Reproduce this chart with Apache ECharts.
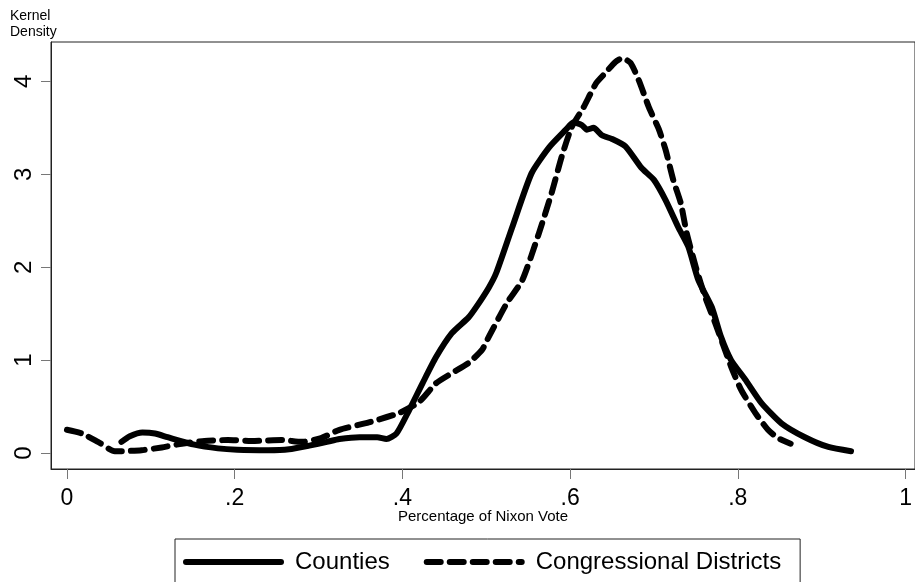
<!DOCTYPE html>
<html>
<head>
<meta charset="utf-8">
<script src="https://cdn.jsdelivr.net/npm/echarts@6/dist/echarts.min.js"></script>
<style>
  html, body { margin: 0; padding: 0; background: #fff; }
  #chart { width: 915px; height: 582px; }
</style>
</head>
<body>
<div id="chart"></div>
<script>
// kernel density
var countiesX = [0.065, 0.075, 0.090, 0.105, 0.120, 0.152, 0.180, 0.203, 0.240, 0.265, 0.289, 0.310, 0.325, 0.349, 0.370, 0.381, 0.393, 0.408, 0.424, 0.440, 0.459, 0.479, 0.488, 0.503, 0.512, 0.531, 0.554, 0.575, 0.595, 0.604, 0.614, 0.620, 0.628, 0.638, 0.650, 0.666, 0.685, 0.700, 0.714, 0.729, 0.741, 0.753, 0.769, 0.780, 0.792, 0.809, 0.828, 0.852, 0.880, 0.908, 0.935]
var countiesY = [0.12, 0.18, 0.22, 0.21, 0.17, 0.09, 0.05, 0.035, 0.03, 0.04, 0.08, 0.12, 0.15, 0.17, 0.17, 0.15, 0.21, 0.46, 0.75, 1.03, 1.29, 1.46, 1.57, 1.78, 1.94, 2.43, 3.01, 3.29, 3.48, 3.56, 3.53, 3.48, 3.50, 3.42, 3.38, 3.30, 3.07, 2.94, 2.72, 2.43, 2.22, 1.86, 1.57, 1.25, 1.00, 0.79, 0.54, 0.32, 0.17, 0.065, 0.02]

var districtsX = [0.000, 0.018, 0.037, 0.057, 0.065, 0.089, 0.113, 0.137, 0.164, 0.192, 0.224, 0.256, 0.280, 0.303, 0.325, 0.360, 0.396, 0.420, 0.440, 0.459, 0.479, 0.495, 0.503, 0.525, 0.543, 0.563, 0.578, 0.590, 0.602, 0.616, 0.631, 0.642, 0.654, 0.662, 0.672, 0.682, 0.694, 0.706, 0.714, 0.723, 0.732, 0.739, 0.750, 0.761, 0.773, 0.792, 0.804, 0.821, 0.836, 0.848, 0.863]
var districtsY = [0.25, 0.21, 0.12, 0.02, 0.02, 0.03, 0.06, 0.10, 0.13, 0.14, 0.13, 0.14, 0.12, 0.16, 0.25, 0.33, 0.43, 0.55, 0.75, 0.86, 0.97, 1.11, 1.25, 1.62, 1.86, 2.37, 2.80, 3.19, 3.51, 3.72, 3.98, 4.09, 4.21, 4.25, 4.20, 4.01, 3.72, 3.48, 3.26, 2.94, 2.69, 2.37, 2.00, 1.68, 1.40, 0.93, 0.68, 0.43, 0.25, 0.16, 0.10]

var xTicks = [0, 0.2, 0.4, 0.6, 0.8, 1]
var yTicks = [0, 1, 2, 3, 4]

function pairs(xs, ys) {
  return xs.map(function (x, i) { return [x, ys[i]] })
}

var chart = echarts.init(document.getElementById('chart'))
var font = 'Liberation Sans, Arial, Helvetica, sans-serif'
var noDot = { opacity: 0, color: 'transparent', borderWidth: 0 }

chart.setOption({
  animation: false,
  title: {
    text: 'Kernel\nDensity',
    left: 10, top: 8, padding: 0,
    textStyle: { fontSize: 14, fontWeight: 'normal', color: '#000', fontFamily: font, lineHeight: 16 }
  },
  grid: {
    left: 51, right: -2, top: 42, bottom: 113,
    show: true, borderColor: '#222', borderWidth: 1
  },
  xAxis: {
    type: 'value',
    min: -0.019, max: 1.0113,
    name: 'Percentage of Nixon Vote',
    nameLocation: 'middle',
    nameGap: 40,
    nameMoveOverlap: false,
    nameTextStyle: { fontSize: 15, color: '#000', fontFamily: font },
    splitLine: { show: false },
    axisLine: { show: true, onZero: false, lineStyle: { color: '#222', width: 1 } },
    axisTick: { show: true, length: 10, customValues: xTicks, lineStyle: { color: '#777', width: 1 } },
    axisLabel: {
      customValues: xTicks,
      margin: 18,
      fontSize: 23, color: '#000', fontFamily: font,
      formatter: function (v) {
        if (v === 0) return '0'
        if (v === 1) return '1'
        return String(v).replace(/^0/, '')
      }
    }
  },
  yAxis: {
    type: 'value',
    min: -0.172, max: 4.424,
    splitLine: { show: false },
    axisLine: { show: true, onZero: false, lineStyle: { color: '#222', width: 1 } },
    axisTick: { show: true, length: 10, customValues: yTicks, lineStyle: { color: '#777', width: 1 } },
    axisLabel: {
      customValues: yTicks,
      rotate: 90,
      margin: 15,
      fontSize: 24, color: '#000', fontFamily: font
    }
  },
  legend: {
    left: 175, top: 539,
    padding: [11, 19, 11, 8],
    borderColor: '#222', borderWidth: 1,
    itemGap: 34, itemWidth: 95, itemHeight: 24,
    textStyle: { fontSize: 24, color: '#000', fontFamily: font, padding: [0, 0, 0, 9] },
    data: [
      { name: 'Counties', itemStyle: noDot, lineStyle: { width: 6, type: 'solid', cap: 'round' } },
      { name: 'Congressional Districts', itemStyle: noDot, lineStyle: { width: 6, type: [14, 9], cap: 'round' } }
    ]
  },
  series: [
    {
      name: 'Counties',
      type: 'line',
      data: pairs(countiesX, countiesY),
      symbol: 'none',
      smooth: 0.2,
      color: '#000',
      lineStyle: { color: '#000', width: 6, cap: 'round', join: 'round' }
    },
    {
      name: 'Congressional Districts',
      type: 'line',
      data: pairs(districtsX, districtsY),
      symbol: 'none',
      smooth: 0.2,
      color: '#000',
      lineStyle: { color: '#000', width: 6, type: [14, 9], cap: 'round', join: 'round' }
    }
  ]
})
</script>
</body>
</html>
